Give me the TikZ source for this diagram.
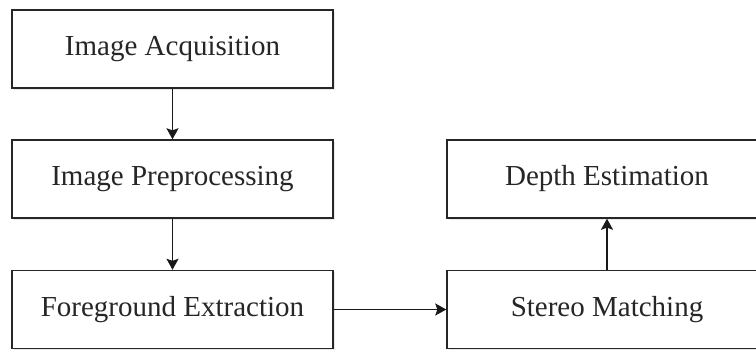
\documentclass[tikz,border=0pt]{standalone}
\usepackage{fontspec}
\setmainfont{Liberation Serif}
\usetikzlibrary{arrows.meta,shadows}
\begin{document}
\begin{tikzpicture}[x=1pt,y=-1pt,
  stage/.style={draw=black!85, line width=1.4pt, fill=white,
    minimum width=321pt, minimum height=78pt, inner sep=0pt,
    font=\fontsize{29}{33}\selectfont, text=black!85,
    drop shadow={opacity=0.18, shadow xshift=2pt, shadow yshift=-2pt}},
  flow/.style={line width=1.5pt, draw=black!90,
    -{Stealth[length=11pt,width=12pt,inset=2pt]}}]
  \useasboundingbox (0,0) rectangle (756,350);
  \clip (0,0) rectangle (756,350);
  % left column
  \node[stage] (acq) at (172.5,49) {Image Acquisition};
  \node[stage] (pre) at (172.5,179) {Image Preprocessing};
  \node[stage] (fg)  at (172.5,309.5) {Foreground Extraction};
  % right column
  \node[stage, minimum width=320pt] (depth) at (607,179) {Depth Estimation};
  \node[stage, minimum width=320pt] (sm)    at (607,309.5) {Stereo Matching};
  % connectors
  \draw[flow] (acq) -- (pre);
  \draw[flow] (pre) -- (fg);
  \draw[flow] (fg) -- (sm);
  \draw[flow] (sm) -- (depth);
\end{tikzpicture}
\end{document}
